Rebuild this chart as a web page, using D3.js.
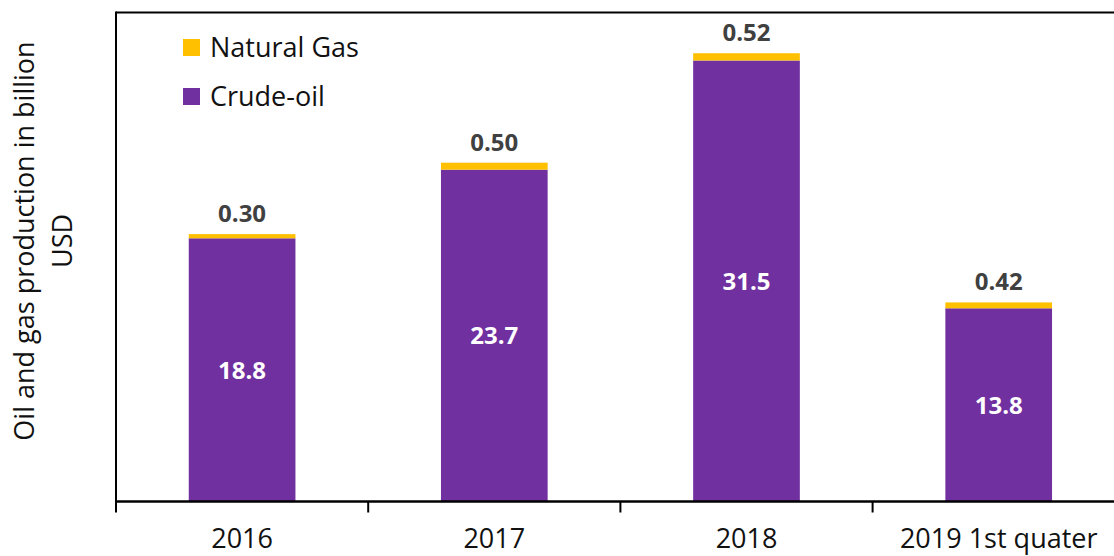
<!DOCTYPE html>
<html>
<head>
<meta charset="utf-8">
<script src="https://cdn.jsdelivr.net/npm/d3@7"></script>
<style>
  html, body { margin: 0; padding: 0; background: #fff; }
  svg { display: block; font-family: "Open Sans", "Noto Sans", sans-serif; }
</style>
</head>
<body>
<svg id="chart" width="1114" height="556"></svg>
<script>
// Oil and gas production value per period (billion USD)
const categories = ["2016", "2017", "2018", "2019 1st quater"];
const crudeOil   = [18.8, 23.7, 31.5, 13.8];
const naturalGas = [0.30, 0.50, 0.52, 0.42];
const gasLabels  = ["0.30", "0.50", "0.52", "0.42"];
const seriesNames = ["Natural Gas", "Crude-oil"];
const seriesColors = ["#FFC000", "#7030A0"];
const yAxisTitle = ["Oil and gas production in billion", "USD"];

const rows = categories.map((c, i) => ({ cat: c, crude: crudeOil[i], gas: naturalGas[i], gasLabel: gasLabels[i] }));

const svg = d3.select("#chart");
const plot = { left: 116, top: 11.5, bottom: 501.5, step: 252.2 };

const x = d3.scaleBand()
  .domain(categories)
  .range([plot.left, plot.left + plot.step * categories.length])
  .paddingInner(0.577)
  .paddingOuter(0.2885);

const y = d3.scaleLinear().domain([0, 35]).range([plot.bottom, plot.top]);

const color = d3.scaleOrdinal().domain(["gas", "crude"]).range(seriesColors);

const stacked = d3.stack().keys(["crude", "gas"])(rows);

// Stacked bars
svg.append("g")
  .selectAll("g")
  .data(stacked)
  .join("g")
  .attr("fill", d => color(d.key))
  .selectAll("rect")
  .data(d => d)
  .join("rect")
  .attr("x", d => x(d.data.cat))
  .attr("width", x.bandwidth())
  .attr("y", d => y(d[1]))
  .attr("height", d => y(d[0]) - y(d[1]));

// Plot frame: left and top edges
svg.append("line")
  .attr("x1", plot.left).attr("x2", 1114)
  .attr("y1", plot.top + 1).attr("y2", plot.top + 1)
  .attr("stroke", "#000").attr("stroke-width", 2);
svg.append("line")
  .attr("x1", plot.left).attr("x2", plot.left)
  .attr("y1", plot.top).attr("y2", plot.bottom)
  .attr("stroke", "#000").attr("stroke-width", 2);

// Category axis
const xAxis = svg.append("g")
  .attr("transform", `translate(0,${plot.bottom})`)
  .call(d3.axisBottom(x).tickSize(0).tickPadding(27));
xAxis.select(".domain").remove();
xAxis.selectAll("text")
  .attr("font-size", 27)
  .attr("fill", "#111")
  .attr("font-family", "\"Open Sans\", sans-serif");

svg.append("line")
  .attr("x1", plot.left - 1).attr("x2", 1114)
  .attr("y1", plot.bottom).attr("y2", plot.bottom)
  .attr("stroke", "#000").attr("stroke-width", 2.5);

// Tick marks between categories
const boundaries = categories.map(c => x(c) + x.bandwidth() / 2 - x.step() / 2);
svg.append("g")
  .selectAll("line")
  .data(boundaries)
  .join("line")
  .attr("x1", d => d).attr("x2", d => d)
  .attr("y1", plot.bottom).attr("y2", plot.bottom + 11)
  .attr("stroke", "#000").attr("stroke-width", 2);

// Value labels inside crude-oil segments
svg.append("g")
  .selectAll("text")
  .data(rows)
  .join("text")
  .attr("x", d => x(d.cat) + x.bandwidth() / 2)
  .attr("y", d => (y(0) + y(d.crude)) / 2)
  .attr("dy", "0.36em")
  .attr("text-anchor", "middle")
  .attr("font-size", 24)
  .attr("font-weight", "bold")
  .attr("fill", "#fff")
  .text(d => d.crude.toFixed(1));

// Value labels above natural gas segments
svg.append("g")
  .selectAll("text")
  .data(rows)
  .join("text")
  .attr("x", d => x(d.cat) + x.bandwidth() / 2)
  .attr("y", d => y(d.crude + d.gas) - 12)
  .attr("text-anchor", "middle")
  .attr("font-size", 24)
  .attr("font-weight", "bold")
  .attr("fill", "#404040")
  .text(d => d.gasLabel);

// Legend
const legend = svg.append("g")
  .selectAll("g")
  .data(seriesNames)
  .join("g")
  .attr("transform", (d, i) => `translate(183,${39 + i * 49})`);
legend.append("rect")
  .attr("width", 17).attr("height", 17)
  .attr("fill", (d, i) => seriesColors[i]);
legend.append("text")
  .attr("x", 27).attr("y", 18)
  .attr("font-size", 27)
  .attr("fill", "#111")
  .text(d => d);

// Value axis title
const title = svg.append("text")
  .attr("transform", "translate(0,241) rotate(-90)")
  .attr("text-anchor", "middle")
  .attr("font-size", 27)
  .attr("fill", "#111");
title.selectAll("tspan")
  .data(yAxisTitle)
  .join("tspan")
  .attr("x", 0)
  .attr("y", (d, i) => 34 + i * 37.5)
  .text(d => d);
</script>
</body>
</html>
